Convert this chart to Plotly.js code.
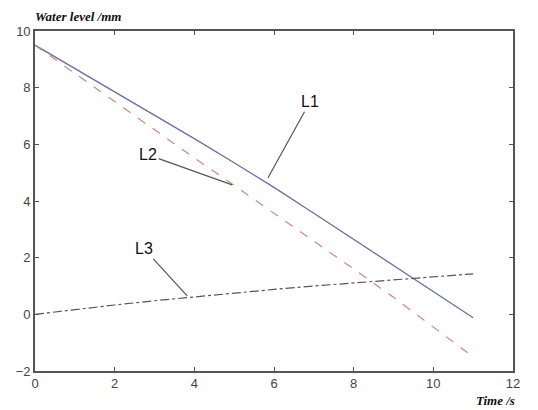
<!DOCTYPE html>
<html><head><meta charset="utf-8">
<script src="https://cdn.plot.ly/plotly-3.0.1.min.js"></script>
<style>html,body{margin:0;padding:0;background:#fff}</style>
</head><body><div id="chart" style="width:538px;height:410px"></div>
<script>
const timeS = [0,1,2,3,4,5,6,7,8,9,10,11];
const L1 = [9.5,8.68,7.86,7.03,6.2,5.35,4.48,3.57,2.65,1.72,0.8,-0.12];
const L2 = [9.5,8.5,7.5,6.5,5.52,4.55,3.57,2.6,1.6,0.6,-0.45,-1.5];
const L3 = [0,0.17,0.33,0.48,0.62,0.76,0.88,1.0,1.11,1.22,1.33,1.43];
const xTicks = [0,2,4,6,8,10,12];
const yTicks = [-2,0,2,4,6,8,10];

const traces = [
  {x: timeS, y: L1, mode:'lines', line:{color:'#6a6f9e', width:1.3}},
  {x: timeS, y: L2, mode:'lines', line:{color:'#d08878', width:1.2, dash:'dash'}},
  {x: timeS, y: L3, mode:'lines', line:{color:'#555', width:1.2, dash:'dashdot'}}
];
const lab = {family:'Arial, Liberation Sans, sans-serif', size:16, color:'#111'};
const axFont = {family:'Arial, Liberation Sans, sans-serif', size:13, color:'#444'};
const layout = {
  width:538, height:410,
  margin:{l:35, r:25, t:31, b:39},
  showlegend:false,
  paper_bgcolor:'#fff', plot_bgcolor:'#fff',
  xaxis:{range:[0,12], tickvals:xTicks, ticks:'inside', ticklen:4, mirror:'allticks',
    showline:true, linecolor:'#555', linewidth:1.8, showgrid:false, zeroline:false, tickfont:axFont, tickcolor:'#555'},
  yaxis:{range:[-2,10], tickvals:yTicks, ticks:'inside', ticklen:4, mirror:'allticks',
    showline:true, linecolor:'#555', linewidth:1.8, showgrid:false, zeroline:false, tickfont:axFont, tickcolor:'#555'},
  annotations:[
    {x:5.85, y:4.82, text:'L1', showarrow:true, arrowhead:0, arrowwidth:1.2, arrowcolor:'#555', ax:42, ay:-76, font:lab},
    {x:4.95, y:4.57, text:'L2', showarrow:true, arrowhead:0, arrowwidth:1.2, arrowcolor:'#555', ax:-84, ay:-30, font:lab},
    {x:3.82, y:0.65, text:'L3', showarrow:true, arrowhead:0, arrowwidth:1.2, arrowcolor:'#555', ax:-43, ay:-47, font:lab},
    {xref:'paper', yref:'paper', x:0, y:1, xanchor:'left', yanchor:'bottom', yshift:5, xshift:-2, showarrow:false,
     text:'<b><i>Water level /mm</i></b>', font:{family:'Liberation Serif, Times New Roman, serif', size:13, color:'#111'}},
    {xref:'paper', yref:'paper', x:1, y:0, xanchor:'right', yanchor:'top', yshift:-20, xshift:4, showarrow:false,
     text:'<b><i>Time /s</i></b>', font:{family:'Liberation Serif, Times New Roman, serif', size:13, color:'#111'}}
  ]
};
Plotly.newPlot('chart', traces, layout, {displayModeBar:false, staticPlot:true});
</script></body></html>
